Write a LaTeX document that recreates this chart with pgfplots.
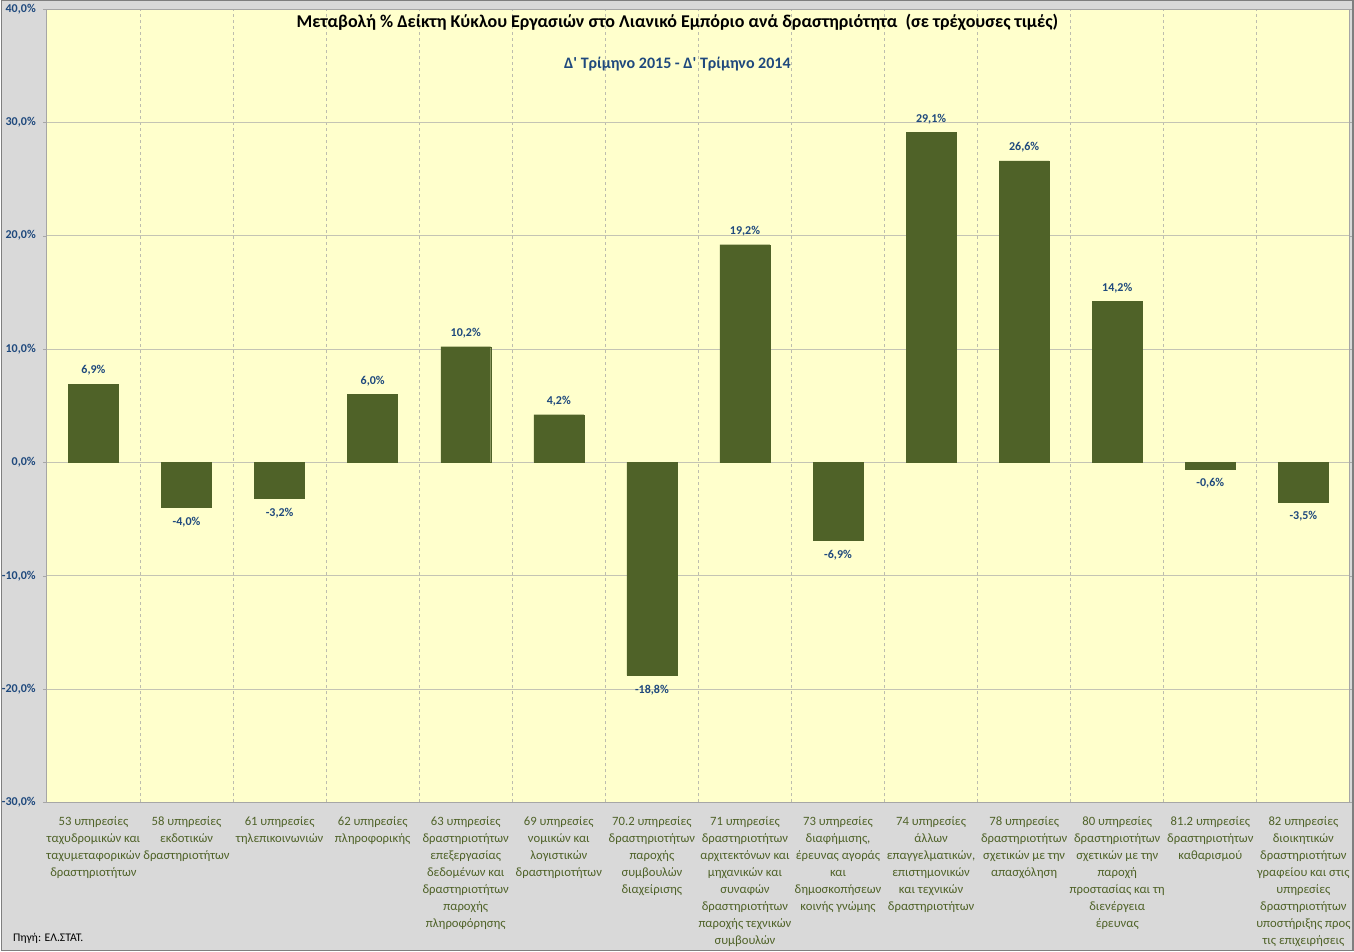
\documentclass[border=0pt]{standalone}
\usepackage{fontspec}
\setmainfont{Carlito}
\newfontfamily\rawfont[Ligatures=TeXOff]{Carlito}
\usepackage{pgfplots}
\pgfplotsset{compat=1.18}
\definecolor{bgray}{HTML}{D9D9D9}
\definecolor{plotbg}{HTML}{FFFFCC}
\definecolor{barc}{HTML}{4F6228}
\definecolor{lblue}{HTML}{1F497D}
\definecolor{xlab}{HTML}{4F6228}
\definecolor{gridc}{HTML}{C4C4B4}
\definecolor{dashc}{HTML}{BDBDAE}
\definecolor{axc}{HTML}{A6A6A6}
\definecolor{framec}{HTML}{7F7F7F}
\begin{document}
\begin{tikzpicture}
\fill[bgray] (0pt,0pt) rectangle (1354pt,952pt);
\begin{axis}[
  at={(46pt,149pt)}, anchor=south west,
  scale only axis, width=1304pt, height=794pt,
  axis background/.style={fill=plotbg},
  ymin=-30, ymax=40, ytick={-30,-20,...,40},
  xmin=-0.5, xmax=13.5,
  xtick={0,...,13},
  minor xtick={0.5,1.5,...,12.5},
  xminorgrids=true,
  minor x grid style={draw=dashc, dash pattern=on 3pt off 3pt, line width=0.9pt},
  ymajorgrids=true,
  major y grid style={draw=gridc, line width=0.9pt},
  axis line style={draw=axc, line width=0.9pt},
  x axis line style={draw=none},
  major x tick style={draw=none},
  minor x tick style={draw=none},
  ytick style={draw=axc},
  tick align=outside,
  major tick length=4pt,
  ybar, bar width=0.537,
  /pgf/number format/assume math mode=true,
  yticklabel={\pgfmathprintnumber[fixed,fixed zerofill,precision=1,use comma]{\tick}\%},
  yticklabel style={font=\fontsize{12}{14}\selectfont\bfseries, text=lblue, inner sep=2pt, xshift=-5pt},
  xticklabel style={font=\fontsize{12.7}{17}\selectfont, text=xlab, align=center, anchor=north, yshift=-7pt},
  xticklabels={
   {53 υπηρεσίες\\ταχυδρομικών και\\ταχυμεταφορικών\\δραστηριοτήτων},
   {58 υπηρεσίες\\εκδοτικών\\δραστηριοτήτων},
   {61 υπηρεσίες\\τηλεπικοινωνιών},
   {62 υπηρεσίες\\πληροφορικής},
   {63 υπηρεσίες\\δραστηριοτήτων\\επεξεργασίας\\δεδομένων και\\δραστηριοτήτων\\παροχής\\πληροφόρησης},
   {69 υπηρεσίες\\νομικών και\\λογιστικών\\δραστηριοτήτων},
   {70.2 υπηρεσίες\\δραστηριοτήτων\\παροχής\\συμβουλών\\διαχείρισης},
   {71 υπηρεσίες\\δραστηριοτήτων\\αρχιτεκτόνων και\\μηχανικών και\\συναφών\\δραστηριοτήτων\\παροχής τεχνικών\\συμβουλών},
   {73 υπηρεσίες\\διαφήμισης,\\έρευνας αγοράς\\και\\δημοσκοπήσεων\\κοινής γνώμης},
   {74 υπηρεσίες\\άλλων\\επαγγελματικών,\\επιστημονικών\\και τεχνικών\\δραστηριοτήτων},
   {78 υπηρεσίες\\δραστηριοτήτων\\σχετικών με την\\απασχόληση},
   {80 υπηρεσίες\\δραστηριοτήτων\\σχετικών με την\\παροχή\\προστασίας και τη\\διενέργεια\\έρευνας},
   {81.2 υπηρεσίες\\δραστηριοτήτων\\καθαρισμού},
   {82 υπηρεσίες\\διοικητικών\\δραστηριοτήτων\\γραφείου και στις\\υπηρεσίες\\δραστηριοτήτων\\υποστήριξης προς\\τις επιχειρήσεις}
  },
  nodes near coords={\pgfmathprintnumber[fixed,fixed zerofill,precision=1,use comma]{\pgfplotspointmeta}\%},
  nodes near coords style={font=\fontsize{12}{14}\selectfont\bfseries, text=lblue, inner xsep=0pt, inner ysep=10pt, text height=7.6pt, text depth=0pt},
]
\addplot[fill=barc, draw=barc] coordinates {
 (0,6.9) (1,-4.0) (2,-3.2) (3,6.0) (4,10.2) (5,4.2) (6,-18.8)
 (7,19.2) (8,-6.9) (9,29.1) (10,26.6) (11,14.2) (12,-0.6) (13,-3.5)
};
\end{axis}
\draw[framec, line width=1.5pt] (0.75pt,0.75pt) rectangle (1353.25pt,951.25pt);
\node[font=\fontsize{18}{21}\selectfont\bfseries] at (677pt,930pt) {Μεταβολή \% Δείκτη Κύκλου Εργασιών στο Λιανικό Εμπόριο ανά δραστηριότητα~~(σε τρέχουσες τιμές)};
\node[font=\rawfont\fontsize{16}{19}\selectfont\bfseries, text=lblue] at (677pt,888pt) {Δ' Τρίμηνο 2015 - Δ' Τρίμηνο 2014};
\node[font=\fontsize{11.7}{14}\selectfont, anchor=west, inner sep=0pt] at (12pt,13pt) {Πηγή: ΕΛ.ΣΤΑΤ.};
\end{tikzpicture}
\end{document}
